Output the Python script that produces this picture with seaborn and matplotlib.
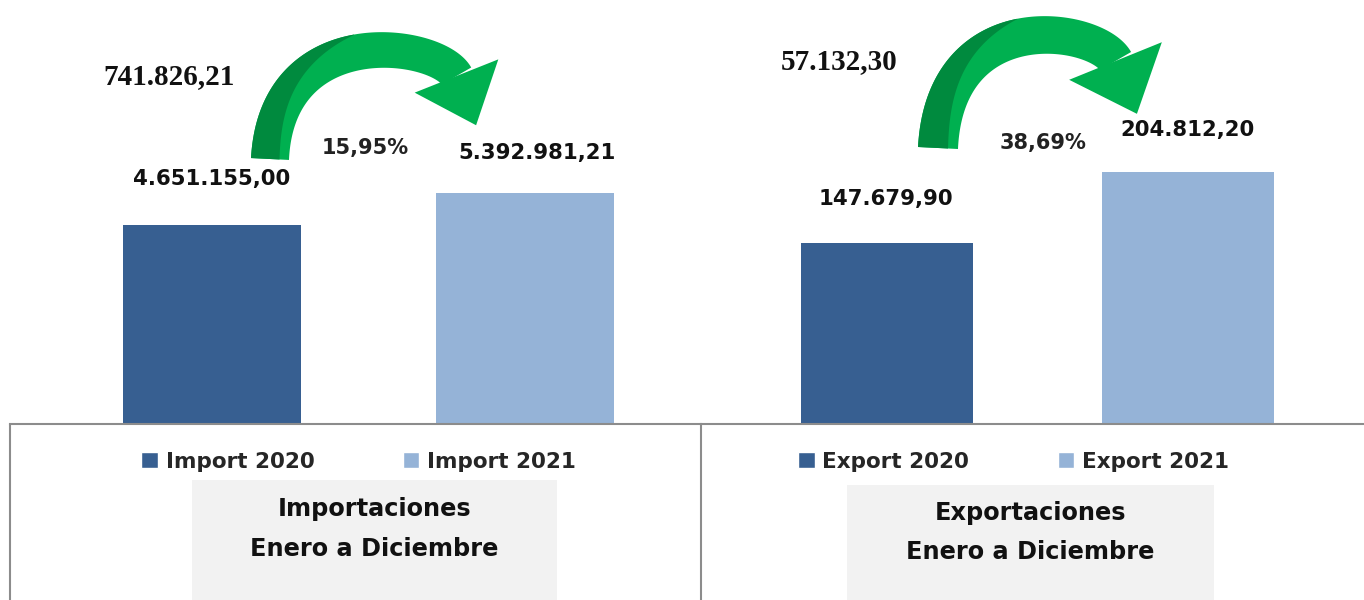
import numpy as np
import matplotlib
matplotlib.use("Agg")
import matplotlib.pyplot as plt
from matplotlib.patches import Polygon, Rectangle, Patch
import seaborn as sns

# --------------------- Data ---------------------
import_series = ["Import 2020", "Import 2021"]
import_values = [4651155.00, 5392981.21]
export_series = ["Export 2020", "Export 2021"]
export_values = [147679.90, 204812.20]
diff_values = [741826.21, 57132.30]
pct_values = [15.95, 38.69]
title_lines = [["Importaciones", "Enero a Diciembre"],
               ["Exportaciones", "Enero a Diciembre"]]

# --------------------- Style ---------------------
W, H = 1364, 600
DARK = "#375F91"
LIGHT = "#95B3D7"
GREEN = "#00B050"
GREEN_DARK = "#008A3E"
LINE = "#8C8C8C"
BOX = "#F2F2F2"
SANS = "DejaVu Sans"
SERIF = "Liberation Serif"

sns.set_style("white")


def fx(x):
    return x / W


def fy(y):
    return 1 - y / H


def fmt_es(v, dec=2):
    s = f"{v:,.{dec}f}"
    return s.replace(",", "X").replace(".", ",").replace("X", ".")


def unit(v):
    v = np.array(v, float)
    return v / np.linalg.norm(v)


def draw_arrow(ax, tail, head, dir0, band_dir, head_dir, a, b, w0, w1, head_w, head_len):
    p0 = np.array(tail, float)
    p3 = np.array(head, float)
    p1 = p0 + a * unit(dir0)
    p2 = p3 - b * unit(band_dir)
    t = np.linspace(0, 1, 120)[:, None]
    pts = (1 - t) ** 3 * p0 + 3 * (1 - t) ** 2 * t * p1 + 3 * (1 - t) * t ** 2 * p2 + t ** 3 * p3
    der = 3 * (1 - t) ** 2 * (p1 - p0) + 6 * (1 - t) * t * (p2 - p1) + 3 * t ** 2 * (p3 - p2)
    T = der / np.linalg.norm(der, axis=1, keepdims=True)
    n = np.column_stack([T[:, 1], -T[:, 0]])  # outer side
    w = (w0 + (w1 - w0) * t)
    outer = pts + n * w / 2
    inner = pts - n * w / 2
    ax.add_patch(Polygon(np.vstack([outer, inner[::-1]]), closed=True,
                         fc=GREEN, ec="none", zorder=3))
    # head
    hd = unit(head_dir)
    hn = np.array([hd[1], -hd[0]])
    tip = p3 + hd * head_len
    ax.add_patch(Polygon([p3 + hn * head_w / 2, tip, p3 - hn * head_w / 2],
                         closed=True, fc=GREEN, ec="none", zorder=3))
    # darker twist on the rising part
    tt = t[:, 0]
    m = tt <= 0.5
    f = 0.75 * (1 - (tt[m] / 0.5) ** 1.5)
    edge = outer[m] - n[m] * (w[m] * f[:, None])
    ax.add_patch(Polygon(np.vstack([outer[m], edge[::-1]]), closed=True,
                         fc=GREEN_DARK, ec="none", zorder=4))


fig = plt.figure(figsize=(W / 100, H / 100), dpi=100)

# --------------------- Bar panels ---------------------
ax_imp = fig.add_axes([fx(10), fy(424), (701 - 10) / W, 424 / H])
ax_exp = fig.add_axes([fx(701), fy(424), (1364 - 701) / W, 424 / H])

panels = [
    (ax_imp, import_series, import_values, (-0.645, 1.562), 9.9e6, 358.5, [(0, 46), (12, 40)]),
    (ax_exp, export_series, export_values, (-0.618, 1.585), 345100, 1013.5, [(-1, 44), (0, 42)]),
]

for ax, series, values, xlim, ymax, leg_x, offsets in panels:
    sns.barplot(x=series, y=values, hue=series, palette=[DARK, LIGHT],
                saturation=1, width=0.569, ax=ax, legend=False,
                edgecolor="none")
    ax.set_xlim(*xlim)
    ax.set_ylim(0, ymax)
    ax.set_xticks([])
    ax.set_yticks([])
    ax.set_xlabel("")
    ax.set_ylabel("")
    ax.patch.set_alpha(0)
    for side in ["top", "left", "right"]:
        ax.spines[side].set_visible(False)
    ax.spines["bottom"].set_color(LINE)
    ax.spines["bottom"].set_linewidth(1.5)

    for i, (v, off) in enumerate(zip(values, offsets)):
        ax.annotate(fmt_es(v), xy=(i, v), xytext=off, textcoords="offset pixels",
                    ha="center", va="center", fontsize=15.3, fontweight="bold",
                    family=SANS, color="#111111", annotation_clip=False)

    handles = [Patch(facecolor=DARK), Patch(facecolor=LIGHT)]
    ax.legend(handles=handles, labels=series, loc="center",
              bbox_to_anchor=(fx(leg_x), fy(461.5)), bbox_transform=fig.transFigure,
              ncol=2, frameon=False, handlelength=0.77, handleheight=0.77,
              handletextpad=0.36, columnspacing=4.1,
              prop=dict(family=SANS, weight="bold", size=15.5))

# --------------------- Overlay (frame, boxes, arrows, notes) ---------------------
ov = fig.add_axes([0, 0, 1, 1], zorder=5)
ov.set_xlim(0, W)
ov.set_ylim(H, 0)
ov.set_axis_off()
ov.patch.set_alpha(0)

ov.plot([10, 10], [424, 600], color=LINE, lw=1.5)
ov.plot([701, 701], [424, 600], color=LINE, lw=1.5)

box_specs = [(192, 480, 365, 374.5, 509, 549), (847, 485, 367, 1030.5, 513, 552)]
for (bx, by, bw, tx, ty1, ty2), lines in zip(box_specs, title_lines):
    ov.add_patch(Rectangle((bx, by), bw, H - by + 5, fc=BOX, ec="none", zorder=1))
    ov.text(tx, ty1, lines[0], ha="center", va="center", fontsize=17.3,
            fontweight="bold", family=SANS, color="#111111", zorder=2)
    ov.text(tx, ty2, lines[1], ha="center", va="center", fontsize=17.3,
            fontweight="bold", family=SANS, color="#111111", zorder=2)

draw_arrow(ov, tail=(270, 159), head=(456.5, 76), dir0=(0.05, -1), band_dir=(0.5, 0.866),
           head_dir=(0.37, 0.93), a=140, b=40, w0=38, w1=34, head_w=90, head_len=53)
draw_arrow(ov, tail=(938, 148), head=(1115.5, 61), dir0=(0.05, -1), band_dir=(0.5, 0.866),
           head_dir=(0.376, 0.927), a=145, b=40, w0=40, w1=36, head_w=100, head_len=57)

diff_pos = [(169, 77), (839, 62)]
pct_pos = [(365, 148), (1043, 143)]
for d, p, (dx, dy), (px, py) in zip(diff_values, pct_values, diff_pos, pct_pos):
    ov.text(dx, dy, fmt_es(d), ha="center", va="center", fontsize=21,
            fontweight="bold", family=SERIF, color="#111111")
    ov.text(px, py, fmt_es(p) + "%", ha="center", va="center", fontsize=15,
            fontweight="bold", family=SANS, color="#222222")

fig.savefig("out.png", dpi=100)
